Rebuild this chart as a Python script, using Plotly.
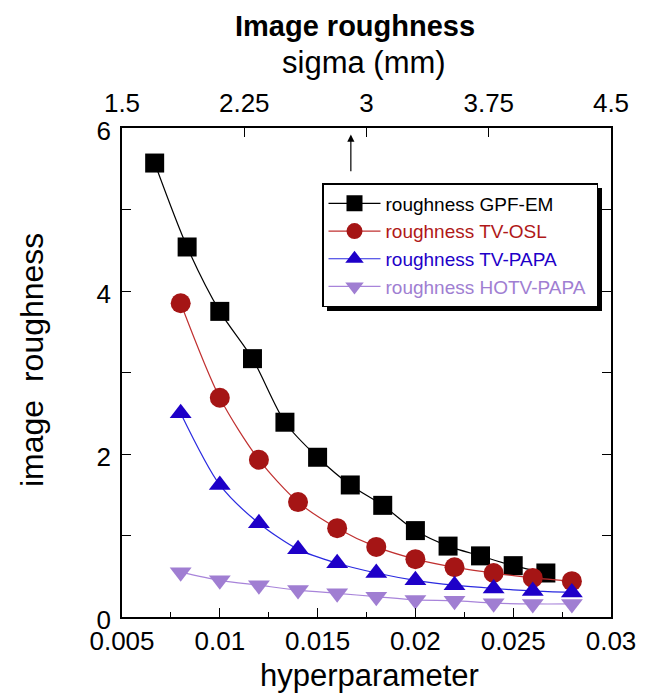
import plotly.graph_objects as go

# hyperparameter values
x_gpf = [0.00667, 0.00833, 0.01, 0.01167, 0.01333, 0.015, 0.01667, 0.01833, 0.02, 0.02167, 0.02333, 0.025, 0.02667]
y_gpf = [5.57, 4.54, 3.75, 3.17, 2.39, 1.96, 1.62, 1.37, 1.06, 0.87, 0.75, 0.63, 0.54]

x_tv = [0.008, 0.01, 0.012, 0.014, 0.016, 0.018, 0.02, 0.022, 0.024, 0.026, 0.028]
y_osl = [3.85, 2.69, 1.93, 1.41, 1.09, 0.86, 0.71, 0.61, 0.54, 0.48, 0.44]
y_papa = [2.50, 1.62, 1.15, 0.83, 0.66, 0.54, 0.45, 0.39, 0.35, 0.32, 0.30]
y_hotv = [0.55, 0.45, 0.39, 0.33, 0.29, 0.25, 0.21, 0.20, 0.17, 0.16, 0.16]

sigma_ticks = [1.5, 2.25, 3, 3.75, 4.5]
sigma_labels = ["1.5", "2.25", "3", "3.75", "4.5"]
x_ticks = [0.005, 0.01, 0.015, 0.02, 0.025, 0.03]
x_labels = ["0.005", "0.01", "0.015", "0.02", "0.025", "0.03"]
y_ticks = [0, 2, 4, 6]

FONT = "Liberation Sans, Arial, sans-serif"
TICK_SIZE = 26

series = [
    ("roughness GPF-EM", x_gpf, y_gpf, "square", "#000000", "#000000", "#000000"),
    ("roughness TV-OSL", x_tv, y_osl, "circle", "#A51515", "#C03030", "#B01818"),
    ("roughness TV-PAPA", x_tv, y_papa, "triangle-up", "#1E00C8", "#2A2AE0", "#1E00C8"),
    ("roughness HOTV-PAPA&nbsp;", x_tv, y_hotv, "triangle-down", "#A07ED2", "#A884DA", "#A07ED2"),
]

fig = go.Figure()
for name, xs, ys, sym, mc, lc, tc in series:
    fig.add_trace(go.Scatter(
        x=xs, y=ys, mode="lines+markers",
        name=f'<span style="color:{tc}">{name}</span>',
        line=dict(color=lc, width=1.2, shape="spline", smoothing=0.8),
        marker=dict(symbol=sym, size=19 if sym != "circle" else 20, color=mc,
                    line=dict(width=0)),
        cliponaxis=False,
    ))

# invisible trace for top axis
fig.add_trace(go.Scatter(x=[1.5, 4.5], y=[0, 0], xaxis="x2", mode="markers",
                         marker=dict(opacity=0), showlegend=False, hoverinfo="skip"))

W, H = 642, 686
# plot area in screen pixels: left 122, top 128, size 489 x 489
def px(x):
    return (x - 122) / 489

def py(y):
    return (617 - y) / 489

fig.update_layout(
    width=W, height=H,
    paper_bgcolor="white", plot_bgcolor="white",
    font=dict(family=FONT, color="black"),
    margin=dict(l=114, r=39, t=120, b=77, autoexpand=False),
    xaxis=dict(range=[0.005, 0.03], tickvals=x_ticks, ticktext=x_labels,
               ticks="inside", ticklen=9, tickwidth=1, tickcolor="black",
               minor=dict(dtick=0.0025, ticks="inside", ticklen=5, tickcolor="black", tick0=0.005),
               showline=True, linecolor="black", linewidth=1.5, mirror=False,
               showgrid=False, zeroline=False, automargin=False,
               tickfont=dict(size=TICK_SIZE)),
    xaxis2=dict(range=[1.5, 4.5], overlaying="x", side="top", anchor="y",
                tickvals=sigma_ticks, ticktext=sigma_labels,
                ticks="inside", ticklen=9, tickwidth=1, tickcolor="black",
                showline=True, linecolor="black", linewidth=1.5,
                showgrid=False, zeroline=False, automargin=False,
                ticklabelstandoff=4,
                tickfont=dict(size=TICK_SIZE)),
    yaxis=dict(range=[0, 6], tickvals=y_ticks,
               ticks="inside", ticklen=9, tickwidth=1, tickcolor="black",
               minor=dict(dtick=1, ticks="inside", ticklen=9, tickcolor="black"),
               showline=True, linecolor="black", linewidth=1.5, mirror="ticks",
               showgrid=False, zeroline=False, automargin=False,
               ticklabelstandoff=4, ticklabelshift=3,
               tickfont=dict(size=TICK_SIZE)),
    legend=dict(x=px(322), y=py(183), xanchor="left", yanchor="top",
                bgcolor="white", bordercolor="black", borderwidth=1.5,
                font=dict(size=19, family=FONT), tracegroupgap=0, itemwidth=52),
    showlegend=True,
)

# titles as annotations
fig.add_annotation(text="<b>Image roughness</b>", xref="paper", yref="paper",
                   x=px(355), y=py(26), showarrow=False, xanchor="center", yanchor="middle",
                   font=dict(size=29, family=FONT))
fig.add_annotation(text="sigma (mm)", xref="paper", yref="paper",
                   x=px(364), y=py(63), showarrow=False, xanchor="center", yanchor="middle",
                   font=dict(size=31, family=FONT))
fig.add_annotation(text="hyperparameter", xref="paper", yref="paper",
                   x=px(369), y=py(675), showarrow=False, xanchor="center", yanchor="middle",
                   font=dict(size=31, family=FONT))
fig.add_annotation(text="image  roughness", xref="paper", yref="paper", textangle=-90,
                   x=px(32), y=py(360), showarrow=False, xanchor="center", yanchor="middle",
                   font=dict(size=32, family=FONT))

# legend shadow
fig.add_shape(type="rect", xref="paper", yref="paper",
              x0=px(327), x1=px(602),
              y0=py(311), y1=py(188),
              fillcolor="black", line=dict(width=0), layer="above")

# arrows
fig.add_annotation(x=0.0167, y=5.92, ax=0.0167, ay=5.45, xref="x", yref="y",
                   axref="x", ayref="y", text="", showarrow=True,
                   arrowhead=2, arrowsize=1.2, arrowwidth=1.2, arrowcolor="black")
fig.add_annotation(x=0.018, y=-0.02, ax=0.018, ay=-0.47, xref="x", yref="y",
                   axref="x", ayref="y", text="", showarrow=True,
                   arrowhead=2, arrowsize=1.2, arrowwidth=1.2, arrowcolor="black")

fig.write_html("out.html")
